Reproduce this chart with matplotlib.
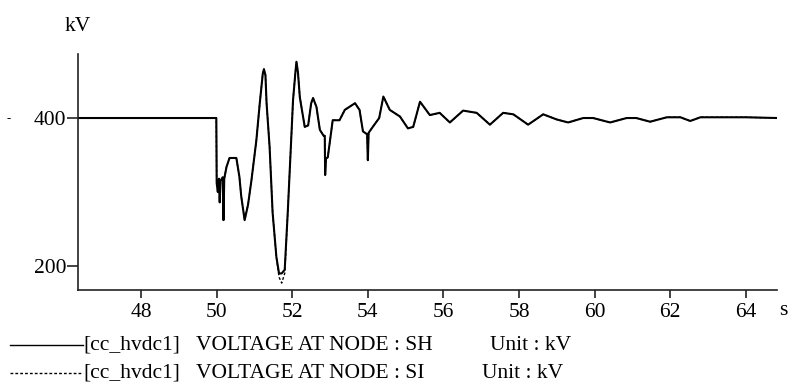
import matplotlib.pyplot as plt
from matplotlib.lines import Line2D

# time (s) and voltage (kV)
t_s = [46.33, 49.99, 50.0, 50.03, 50.06, 50.08, 50.1, 50.16, 50.18, 50.2,
       50.26, 50.34, 50.52, 50.6, 50.65, 50.74, 50.83, 50.92, 51.05, 51.14,
       51.22, 51.25, 51.29, 51.32, 51.4, 51.48, 51.58, 51.65, 51.72, 51.8,
       51.88, 51.98, 52.02, 52.08, 52.11, 52.15, 52.2, 52.33, 52.42, 52.5,
       52.55, 52.64, 52.73, 52.83, 52.86, 52.87, 52.89, 52.94, 53.07, 53.25,
       53.39, 53.66, 53.78, 53.87, 53.98, 54.0, 54.02, 54.13, 54.3, 54.41,
       54.58, 54.85, 55.06, 55.2, 55.38, 55.64, 55.9, 56.17, 56.52, 56.88,
       57.23, 57.58, 57.85, 58.24, 58.64, 59.0, 59.3, 59.7, 59.96, 60.41,
       60.85, 61.1, 61.47, 61.91, 62.27, 62.53, 62.8, 63.24, 64.0, 64.83]

sh_kv = [400, 400, 312, 300, 318, 286, 315, 320, 262, 318,
         334, 346, 346, 321, 294, 262, 283, 316, 370, 420,
         460, 466, 458, 420, 361, 272, 212, 190, 190, 195,
         272, 380, 424, 460, 476, 462, 428, 388, 390, 420,
         427, 415, 384, 376, 376, 323, 345, 347, 397, 397,
         411, 420, 411, 382, 378, 343, 380, 388, 400, 429,
         411, 402, 386, 388, 422, 404, 407, 394, 410, 407,
         391, 407, 405, 391, 405, 398, 394, 400, 400, 394,
         400, 400, 395, 401, 401, 396, 401, 401, 401, 400]

si_kv = [400, 400, 312, 300, 318, 286, 315, 320, 262, 318,
         334, 346, 346, 321, 294, 262, 283, 316, 370, 420,
         460, 466, 458, 420, 361, 272, 212, 185, 177, 190,
         272, 380, 424, 460, 476, 462, 428, 388, 390, 420,
         427, 415, 384, 376, 376, 323, 345, 347, 397, 397,
         411, 420, 411, 382, 378, 343, 380, 388, 400, 429,
         411, 402, 386, 388, 422, 404, 407, 394, 410, 407,
         391, 407, 405, 391, 405, 398, 394, 400, 400, 394,
         400, 400, 395, 401, 401, 396, 401, 401, 401, 400]

x_ticks = [48, 50, 52, 54, 56, 58, 60, 62, 64]
y_ticks = [200, 400]
labels = ['[cc_hvdc1]', '[cc_hvdc1]']
names = ['VOLTAGE AT NODE : SH', 'VOLTAGE AT NODE : SI']
units = ['Unit : kV', 'Unit : kV']

plt.rcParams['font.family'] = ['Liberation Serif', 'DejaVu Serif']
FS = 15.5

fig = plt.figure(figsize=(7.91, 3.83), dpi=100)
ax = fig.add_axes([0.0986, 0.2428, 0.8834, 0.6162])

ax.plot(t_s, si_kv, color='black', lw=1.0, ls=(0, (2, 1.5)))
ax.plot(t_s, sh_kv, color='black', lw=1.5)

ax.set_xlim(46.33, 64.82)
ax.set_ylim(167.6, 486.5)
ax.set_xticks(x_ticks)
ax.set_yticks(y_ticks)
for s in ['top', 'right']:
    ax.spines[s].set_visible(False)
for s in ['left', 'bottom']:
    ax.spines[s].set_linewidth(1.2)
    ax.spines[s].set_color('#222222')
ax.tick_params(axis='x', direction='out', length=6, width=1.2, pad=3,
               labelsize=FS, color='#222222')
ax.tick_params(axis='y', direction='out', length=8, width=1.2, pad=0.5,
               labelsize=FS, color='#222222')

fig.text(0.0986, 0.932, 'kV', fontsize=FS, ha='center', va='center')
fig.text(0.99, 0.19, 's', fontsize=FS, ha='center', va='center')
fig.text(0.011, 0.69, '-', fontsize=9, ha='center', va='center')

# legend rows underneath the axes
rows_y = [0.099, 0.026]
styles = ['-', (0, (2, 1.5))]
for y, st, lab, nm, un, ux in zip(rows_y, styles, labels, names, units, [0.619, 0.609]):
    fig.add_artist(Line2D([0.0126, 0.105], [y, y], color='black',
                          lw=1.0, ls=st, transform=fig.transFigure))
    fig.text(0.105, y, lab, fontsize=FS, va='center')
    fig.text(0.248, y, nm, fontsize=FS, va='center')
    fig.text(ux, y, un, fontsize=FS, va='center')

fig.savefig('out.png', dpi=100)
